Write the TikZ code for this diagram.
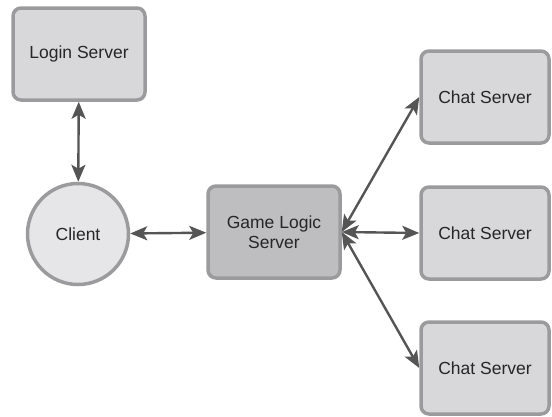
\documentclass[tikz,border=0pt]{standalone}
\usepackage{fontspec}
\setmainfont{Liberation Sans}
\usetikzlibrary{arrows.meta}

\definecolor{edgegray}{HTML}{9B9B9D}
\definecolor{boxgray}{HTML}{D8D8DA}
\definecolor{logicgray}{HTML}{BEBEC1}
\definecolor{clientgray}{HTML}{E6E6E8}
\definecolor{arrowgray}{HTML}{555555}

\begin{document}
\begin{tikzpicture}[x=1pt, y=-1pt,
  every node/.style = {draw=edgegray, line width=3.5pt, align=center,
    text=black!85, font=\fontsize{17.5}{20.5}\selectfont},
  server/.style = {shape=rectangle, rounded corners=8pt, fill=boxgray,
    minimum width=132pt, minimum height=92pt},
  chatbox/.style = {server, minimum width=128pt},
  logicbox/.style = {server, fill=logicgray},
  client/.style = {shape=circle, fill=clientgray, minimum size=101pt},
  link/.style = {{Stealth[length=17pt,width=14pt,inset=4pt]}-{Stealth[length=17pt,width=14pt,inset=4pt]},
    draw=arrowgray, line width=2.4pt}]
  \useasboundingbox (0,0) rectangle (552,416);
  \node[server] (login) at (79,54) {Login Server};
  \node[client] (client) at (78,234) {Client};
  \node[logicbox] (logic) at (274,232) {Game Logic\\Server};
  \node[chatbox] (chat1) at (485,97) {Chat Server};
  \node[chatbox] (chat2) at (485,233) {Chat Server};
  \node[chatbox] (chat3) at (485,368) {Chat Server};
  % connections
  \draw[link] (login) -- (client);
  \draw[link] (client) -- (logic);
  \draw[link] (logic.east) -- (chat1.west);
  \draw[link] (logic.east) -- (chat2.west);
  \draw[link] (logic.east) -- (chat3.west);
\end{tikzpicture}
\end{document}
